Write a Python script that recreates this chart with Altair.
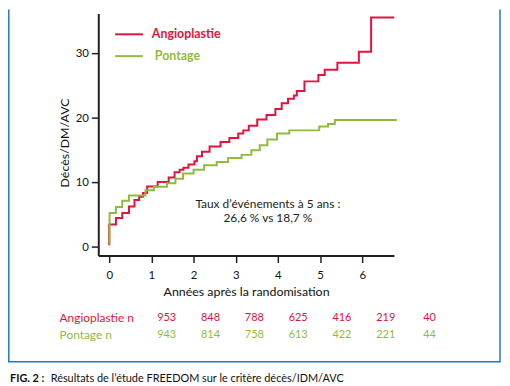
import altair as alt
import pandas as pd

# ---- data ----
angio_t = [0.00, 0.00, 0.16, 0.31, 0.47, 0.60, 0.71, 0.80, 0.90, 1.15, 1.41, 1.55, 1.67, 1.76,
           1.88, 2.02, 2.08, 2.20, 2.38, 2.64, 2.85, 3.06, 3.18, 3.31, 3.51, 3.73, 3.94, 4.09,
           4.24, 4.38, 4.45, 4.63, 4.96, 5.11, 5.41, 5.92, 6.21, 6.76]
angio_v = [0.3, 3.5, 4.5, 5.3, 6.3, 7.3, 7.8, 8.4, 9.4, 10.1, 10.8, 11.6, 12.0, 12.3,
           12.8, 13.3, 14.1, 14.8, 15.6, 16.3, 16.9, 17.6, 18.1, 18.8, 19.8, 20.5, 21.4, 22.3,
           23.0, 23.5, 24.2, 25.7, 26.7, 27.5, 28.6, 30.3, 35.6, 35.6]
pont_t = [0.00, 0.01, 0.16, 0.31, 0.47, 0.86, 1.06, 1.37, 1.57, 1.75, 2.00, 2.25, 2.55, 2.82,
          3.14, 3.37, 3.57, 3.75, 3.98, 4.27, 4.98, 5.19, 5.35, 6.82]
pont_v = [0.5, 5.3, 6.2, 7.2, 8.0, 8.8, 9.35, 9.9, 10.6, 11.4, 12.0, 12.7, 13.2, 13.8,
          14.3, 15.0, 15.8, 16.7, 17.6, 18.1, 18.7, 19.1, 19.7, 19.7]

groups = ["Angioplastie", "Pontage"]
colors = ["#e2133d", "#8fbb3f"]
risk_years = [0, 1, 2, 3, 4, 5, 6]
angio_n = [953, 848, 788, 625, 416, 219, 40]
pont_n = [943, 814, 758, 613, 422, 221, 44]
x_ticks = [0, 1, 2, 3, 4, 5, 6]
y_ticks = [0, 10, 20, 30]
annot = ["Taux d\u2019événements à 5 ans :", "26,6 % vs 18,7 %"]
caption_bold = "FIG. 2 :"
caption = "Résultats de l\u2019étude FREEDOM sur le critère décès/IDM/AVC"

FONT = "Lato"
W, H = 298, 244
BLUE = "#1f78c1"

curve = pd.DataFrame(
    {"t": angio_t + pont_t,
     "v": angio_v + pont_v,
     "g": ["Angioplastie"] * len(angio_t) + ["Pontage"] * len(pont_t),
     "o": list(range(len(angio_t))) + list(range(len(pont_t)))}
)
color_scale = alt.Scale(domain=groups, range=colors)

xs = alt.Scale(domain=[-0.259, 6.75], nice=False, zero=False)
ys = alt.Scale(domain=[-1.31, 36.23], nice=False, zero=False)

lines = alt.Chart(curve).mark_line(interpolate="step-after", strokeWidth=2).encode(
    x=alt.X("t:Q", scale=xs,
            axis=alt.Axis(values=x_ticks, title="Années après la randomisation",
                          grid=False, tickSize=7, labelPadding=7, titlePadding=5,
                          format="d")),
    y=alt.Y("v:Q", scale=ys,
            axis=alt.Axis(values=y_ticks, title="Décès/DM/AVC", grid=False,
                          tickSize=7, labelPadding=3, titleX=-34, titleY=130,
                          titleBaseline="middle", titleAlign="center", format="d")),
    color=alt.Color("g:N", scale=color_scale, legend=None),
    order="o:Q",
)

dummy = pd.DataFrame({"a": [0]})

# legend drawn manually
leg_rules = []
for g, c, yy, tx in [("Angioplastie", colors[0], 21, 54), ("Pontage", colors[1], 43, 57)]:
    leg_rules.append(alt.Chart(dummy).mark_rule(color=c, strokeWidth=2).encode(
        x=alt.value(17), x2=alt.value(45), y=alt.value(yy)))
    leg_rules.append(alt.Chart(dummy).mark_text(
        text=g, color=c, font=FONT, fontSize=12.5, fontWeight="bold",
        align="left", baseline="middle").encode(x=alt.value(tx), y=alt.value(yy)))

annot_layers = [
    alt.Chart(dummy).mark_text(text=annot[0], font=FONT, fontSize=12, color="#222",
                               align="center", baseline="middle").encode(
        x=alt.value(171), y=alt.value(192)),
    alt.Chart(dummy).mark_text(text=annot[1], font=FONT, fontSize=12, color="#222",
                               align="center", baseline="middle").encode(
        x=alt.value(171), y=alt.value(206)),
]

main = alt.layer(lines, *leg_rules, *annot_layers)

risk_df = pd.DataFrame({
    "yr": risk_years * 2,
    "n": angio_n + pont_n,
    "g": ["Angioplastie"] * 7 + ["Pontage"] * 7,
})
risk_y = alt.Scale(domain=groups, range=[307, 324], padding=0)
risk_nums = alt.Chart(risk_df).mark_text(font=FONT, fontSize=11, baseline="middle",
                                         align="center", clip=False).encode(
    x=alt.X("yr:Q", scale=alt.Scale(domain=[-1.562, 5.185], nice=False, zero=False), axis=None),
    y=alt.Y("g:N", scale=risk_y, axis=None),
    text="n:Q",
    color=alt.Color("g:N", scale=color_scale, legend=None),
)
row_df = pd.DataFrame({"g": groups, "lab": [g + " n" for g in groups]})
risk_rows = alt.Chart(row_df).mark_text(font=FONT, fontSize=12, baseline="middle",
                                        align="left").encode(
    x=alt.value(-39),
    y=alt.Y("g:N", scale=risk_y, axis=None),
    text="lab:N",
    color=alt.Color("g:N", scale=color_scale, legend=None),
)
risk = alt.layer(risk_nums, risk_rows)

# frame (blue box) and caption
frame = [
    alt.Chart(dummy).mark_rule(color=BLUE, strokeWidth=1.5).encode(
        x=alt.value(-90.2), y=alt.value(-4), y2=alt.value(351)),
    alt.Chart(dummy).mark_rule(color=BLUE, strokeWidth=1.5).encode(
        x=alt.value(405), y=alt.value(-4), y2=alt.value(351)),
    alt.Chart(dummy).mark_rule(color=BLUE, strokeWidth=1.5).encode(
        x=alt.value(-91), x2=alt.value(405.7), y=alt.value(351)),
    alt.Chart(dummy).mark_text(text=caption_bold, font=FONT, fontSize=11, fontWeight="bold",
                               color="#111", align="left", baseline="alphabetic").encode(
        x=alt.value(-89), y=alt.value(371)),
    alt.Chart(dummy).mark_text(text=caption, font=FONT, fontSize=11, color="#111",
                               align="left", baseline="alphabetic").encode(
        x=alt.value(-48), y=alt.value(371)),
]

chart = alt.layer(main, risk, *frame).resolve_scale(
    x="independent", y="independent", color="shared"
).properties(
    width=W, height=H,
    autosize=alt.AutoSizeParams(type="none"),
    padding={"left": 91, "top": 4, "right": 109, "bottom": 130},
    background="white",
).configure_view(stroke=None).configure_axis(
    domainColor="#231f20", domainWidth=2, tickColor="#231f20", tickWidth=1.5,
    labelFont=FONT, labelFontSize=11.5, labelColor="#111",
    titleFont=FONT, titleFontSize=12.5, titleFontWeight="normal", titleColor="#111",
)

chart.save("out.html", embed_options={"renderer": "svg", "actions": False})
